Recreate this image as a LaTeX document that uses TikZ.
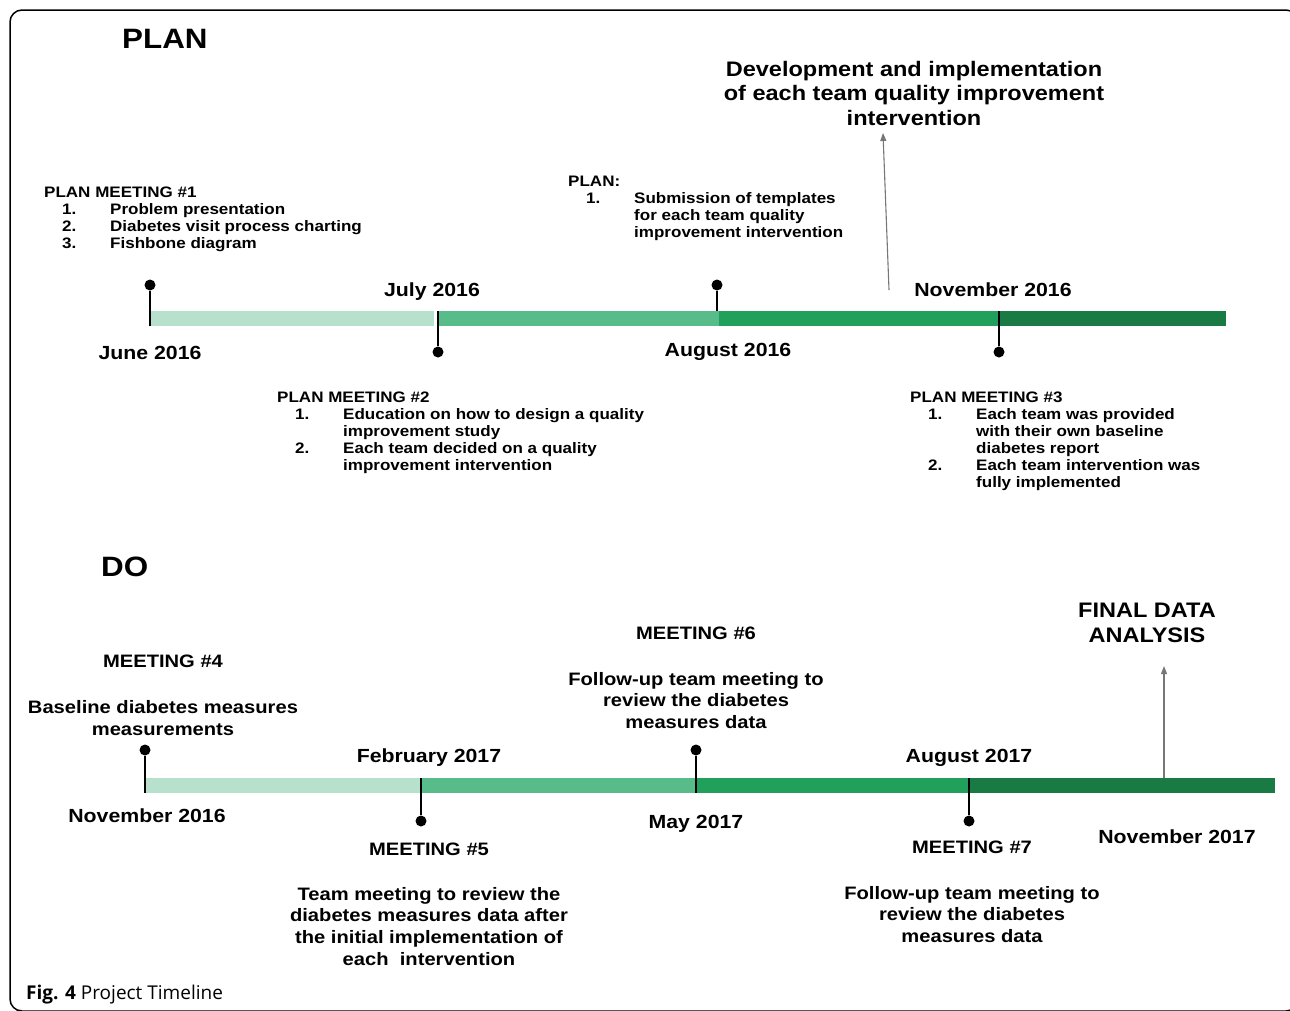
\documentclass[tikz,border=0pt]{standalone}
\usepackage{fontspec}
\setmainfont[FakeStretch=1.12]{Liberation Sans}
\newfontfamily\capfont{Open Sans}
\usetikzlibrary{arrows.meta}
\definecolor{tlLight}{HTML}{B7E1CD}
\definecolor{tlMid}{HTML}{57BB8A}
\definecolor{tlGreen}{HTML}{21A05B}
\definecolor{tlDark}{HTML}{1A7A43}
\definecolor{goalgray}{HTML}{777777}
\tikzset{
  dot/.style={circle,fill=black,minimum size=11pt},
  stem/.style={line width=1.4pt},
  bar/.style={line width=15pt},
  datelbl/.style={font=\fontsize{19}{22}\selectfont\bfseries,anchor=base},
  mtghead/.style={font=\fontsize{18}{21}\selectfont\bfseries,anchor=base},
  mtgbody/.style={font=\fontsize{18}{21.7}\selectfont\bfseries,align=center,anchor=north},
  bigtitle/.style={font=\fontsize{21}{24.5}\selectfont\bfseries,align=center,anchor=north},
  sectitle/.style={font=\fontsize{28}{32}\selectfont\bfseries,anchor=base west},
  listtxt/.style={font=\fontsize{15.2}{17}\selectfont\bfseries,anchor=base west},
  goal/.style={draw=goalgray,line width=1.1pt,-{Triangle[length=8pt,width=6pt]}},
}
% meeting lists: header, then numbered items
\newcommand\mtglist[2]{\begin{tabular}[t]{@{\hspace{18pt}}p{48pt}@{}l}\multicolumn{2}{@{}l}{#1}\\#2\end{tabular}}
\begin{document}
\begin{tikzpicture}[x=1pt,y=-1pt]
		\tikzstyle{every node}+=[inner sep=0pt]
		\path[use as bounding box,clip] (0,0) rectangle (1290,1010);
		\draw [line width=1.5pt,rounded corners=12pt] (10,10) rectangle (1298,1011);
		% PLAN
		\node [sectitle] (plan) at (122,48) {PLAN};
		\node [bigtitle] (devel) at (914,61) {Development and implementation\\of each team quality improvement\\intervention};
		\node [listtxt] (pm1) at (44,197) {\mtglist{PLAN MEETING \#1}{1. & Problem presentation\\2. & Diabetes visit process charting\\3. & Fishbone diagram}};
		\node [listtxt] (plantpl) at (568,186) {\mtglist{PLAN:}{1. & Submission of templates\\ & for each team quality\\ & improvement intervention}};
		\node [listtxt] (pm2) at (277,402) {\mtglist{PLAN MEETING \#2}{1. & Education on how to design a quality\\ & improvement study\\2. & Each team decided on a quality\\ & improvement intervention}};
		\node [listtxt] (pm3) at (910,402) {\mtglist{PLAN MEETING \#3}{1. & Each team was provided\\ & with their own baseline\\ & diabetes report\\2. & Each team intervention was\\ & fully implemented}};
		\coordinate (a0) at (150,318.5);
		\coordinate (a1) at (434,318.5);
		\coordinate (a2) at (438,318.5);
		\coordinate (a3) at (719,318.5);
		\coordinate (a4) at (999,318.5);
		\coordinate (a5) at (1226,318.5);
		\draw [bar,tlLight] (a0) -- (a1);
		\draw [bar,tlMid] (a2) -- (a3);
		\draw [bar,tlGreen] (a3) -- (a4);
		\draw [bar,tlDark] (a4) -- (a5);
		\node [dot] (dJun) at (150,285) {};
		\node [dot] (dJul) at (438,352) {};
		\node [dot] (dAug) at (717,285) {};
		\node [dot] (dNov) at (999,352) {};
		\coordinate (sJun) at (150,326);
		\coordinate (sJul) at (438,311);
		\coordinate (sAug) at (717,311);
		\coordinate (sNov) at (999,311);
		\draw [stem] (dJun) -- (sJun);
		\draw [stem] (dJul) -- (sJul);
		\draw [stem] (dAug) -- (sAug);
		\draw [stem] (dNov) -- (sNov);
		\node [datelbl] (tJun) at (150,359) {June 2016};
		\node [datelbl] (tJul) at (432,296) {July 2016};
		\node [datelbl] (tAug) at (728,356) {August 2016};
		\node [datelbl] (tNov) at (993,296) {November 2016};
		\coordinate (gA) at (889,290);
		\coordinate (gB) at (883,133);
		\draw [goal] (gA) -- (gB);
		% DO
		\node [sectitle] (do) at (101,576) {DO};
		\node [mtghead] (m4) at (163,667) {MEETING \#4};
		\node [mtgbody,font=\fontsize{18}{22}\selectfont\bfseries] (m4txt) at (163,700) {Baseline diabetes measures\\measurements};
		\node [mtghead] (m6) at (696,639) {MEETING \#6};
		\node [mtgbody] (m6txt) at (696,672) {Follow-up team meeting to\\review the diabetes\\measures data};
		\node [mtghead] (m5) at (429,855) {MEETING \#5};
		\node [mtgbody] (m5txt) at (429,887) {Team meeting to review the\\diabetes measures data after\\the initial implementation of\\each\ \ intervention};
		\node [mtghead] (m7) at (972,853) {MEETING \#7};
		\node [mtgbody] (m7txt) at (972,886) {Follow-up team meeting to\\review the diabetes\\measures data};
		\node [bigtitle,font=\fontsize{21}{25}\selectfont\bfseries] (final) at (1147,603) {FINAL DATA\\ANALYSIS};
		\coordinate (b0) at (145,785.5);
		\coordinate (b1) at (421,785.5);
		\coordinate (b2) at (696,785.5);
		\coordinate (b3) at (969,785.5);
		\coordinate (b4) at (1275,785.5);
		\draw [bar,tlLight] (b0) -- (b1);
		\draw [bar,tlMid] (b1) -- (b2);
		\draw [bar,tlGreen] (b2) -- (b3);
		\draw [bar,tlDark] (b3) -- (b4);
		\node [dot] (dNov2) at (145,750) {};
		\node [dot] (dFeb) at (421,821) {};
		\node [dot] (dMay) at (696,750) {};
		\node [dot] (dAug2) at (969,821) {};
		\coordinate (sNov2) at (145,793);
		\coordinate (sFeb) at (421,778);
		\coordinate (sMay) at (696,793);
		\coordinate (sAug2) at (969,778);
		\draw [stem] (dNov2) -- (sNov2);
		\draw [stem] (dFeb) -- (sFeb);
		\draw [stem] (dMay) -- (sMay);
		\draw [stem] (dAug2) -- (sAug2);
		\node [datelbl] (tNov2) at (147,822) {November 2016};
		\node [datelbl] (tFeb) at (429,762) {February 2017};
		\node [datelbl] (tMay) at (696,828) {May 2017};
		\node [datelbl] (tAug2) at (969,762) {August 2017};
		\node [datelbl] (tNov3) at (1177,843) {November 2017};
		\coordinate (fA) at (1164,778);
		\coordinate (fB) at (1164,666);
		\draw [goal] (fA) -- (fB);
		\node [anchor=base west,font=\capfont\fontsize{19}{22}\selectfont] (caption) at (26,999) {\textbf{Fig. 4} Project Timeline};
	\end{tikzpicture}
\end{document}
